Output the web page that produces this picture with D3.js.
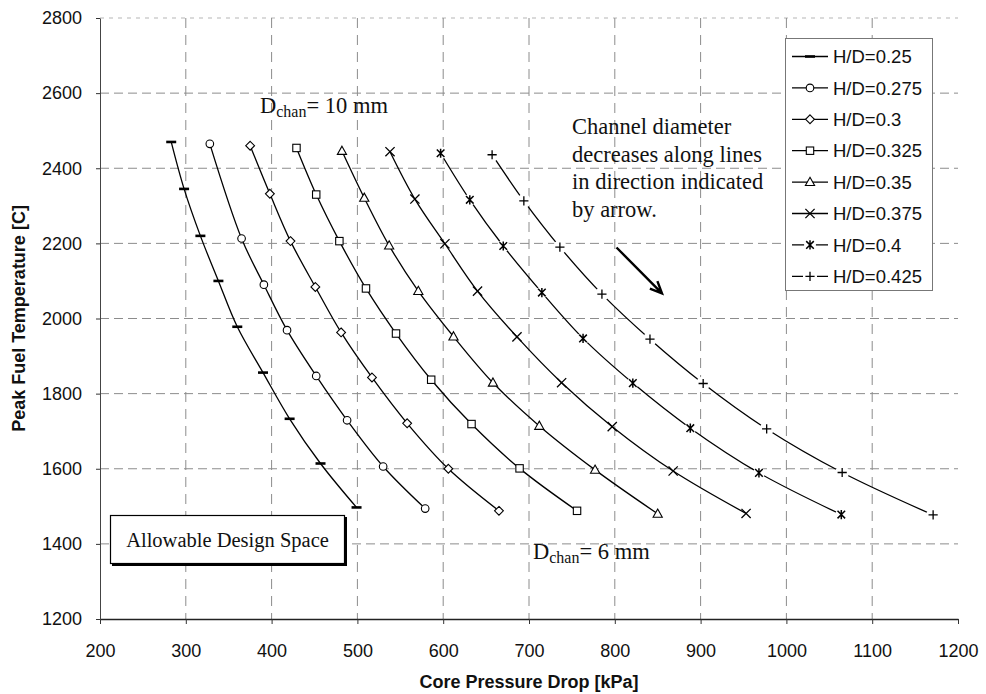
<!DOCTYPE html>
<html>
<head>
<meta charset="utf-8">
<script src="https://cdn.jsdelivr.net/npm/d3@7"></script>
<style>
  body { margin: 0; background: #fff; }
  svg { display: block; }
</style>
</head>
<body>
<svg id="chart" width="986" height="694"></svg>
<script>
// ---- data -------------------------------------------------------------
const xTickValues = [200, 300, 400, 500, 600, 700, 800, 900, 1000, 1100, 1200];
const yTickValues = [1200, 1400, 1600, 1800, 2000, 2200, 2400, 2600, 2800];

const seriesLabels = ["H/D=0.25", "H/D=0.275", "H/D=0.3", "H/D=0.325",
                      "H/D=0.35", "H/D=0.375", "H/D=0.4", "H/D=0.425"];
const markerKinds  = ["dash", "circle", "diamond", "square",
                      "triangle", "cross", "asterisk", "plus"];

// core pressure drop [kPa] and peak fuel temperature [C], channel diameter 10 mm -> 6 mm
const drop025  = [283, 298, 317, 338, 360, 390, 421, 457, 499];
const temp025  = [2470, 2345, 2220, 2100, 1978, 1856, 1733, 1614, 1497];
const drop0275 = [328, 365, 391, 418, 452, 488, 530, 579];
const temp0275 = [2465, 2213, 2090, 1969, 1847, 1729, 1606, 1494];
const drop030  = [375, 398, 422, 451, 481, 517, 558, 606, 665];
const temp030  = [2460, 2332, 2206, 2084, 1963, 1843, 1721, 1600, 1488];
const drop0325 = [429, 452, 479, 510, 545, 586, 633, 689, 756];
const temp0325 = [2454, 2330, 2206, 2080, 1960, 1837, 1719, 1601, 1488];
const drop035  = [482, 508, 537, 571, 612, 658, 712, 777, 850];
const temp035  = [2446, 2321, 2194, 2073, 1952, 1829, 1714, 1597, 1480];
const drop0375 = [538, 567, 602, 640, 686, 738, 797, 868, 953];
const temp0375 = [2444, 2318, 2199, 2073, 1951, 1829, 1712, 1594, 1481];
const drop040  = [597, 631, 670, 715, 763, 821, 888, 968, 1064];
const temp040  = [2440, 2316, 2193, 2069, 1947, 1828, 1708, 1589, 1478];
const drop0425 = [657, 694, 736, 785, 841, 903, 977, 1065, 1171];
const temp0425 = [2436, 2313, 2190, 2065, 1945, 1827, 1706, 1590, 1477];

const dropSets = [drop025, drop0275, drop030, drop0325, drop035, drop0375, drop040, drop0425];
const tempSets = [temp025, temp0275, temp030, temp0325, temp035, temp0375, temp040, temp0425];

// arrow showing the direction of decreasing channel diameter (kPa, C)
const arrowFrom = [802, 2189];
const arrowTo   = [855, 2067];

// ---- layout -----------------------------------------------------------
const SANS  = "'Liberation Sans', Arial, Helvetica, sans-serif";
const SERIF = "'Liberation Serif', 'Times New Roman', Times, serif";
const plot = { left: 100, right: 958, top: 18, bottom: 619 };

const svg = d3.select("#chart");
const x = d3.scaleLinear().domain([200, 1200]).range([plot.left, plot.right]);
const y = d3.scaleLinear().domain([1200, 2800]).range([plot.bottom, plot.top]);

const series = seriesLabels.map((label, i) => ({
  label, kind: markerKinds[i],
  points: dropSets[i].map((d, j) => ({ p: d, t: tempSets[i][j] }))
}));

// ---- gridlines --------------------------------------------------------
const grid = svg.append("g").attr("fill", "none");
grid.selectAll("line.h").data(yTickValues.filter(v => v > 1200)).join("line")
  .attr("x1", plot.left).attr("x2", plot.right)
  .attr("y1", d => y(d)).attr("y2", d => y(d))
  .attr("stroke", d => d === 2800 ? "#b5b5b5" : "#8c8c8c")
  .attr("stroke-width", 1)
  .attr("stroke-dasharray", d => d === 2800 ? "4,5" : "9,5");
grid.selectAll("line.v").data(xTickValues.filter(v => v > 200 && v < 1200)).join("line")
  .attr("x1", d => x(d)).attr("x2", d => x(d))
  .attr("y1", plot.top).attr("y2", plot.bottom)
  .attr("stroke", "#8c8c8c").attr("stroke-width", 1)
  .attr("stroke-dasharray", "10,7");

// ---- axes -------------------------------------------------------------
const fmt = d3.format("d");
const xAxis = svg.append("g")
  .attr("transform", `translate(0,${plot.bottom})`)
  .call(d3.axisBottom(x).tickValues(xTickValues).tickFormat(fmt)
    .tickSize(5).tickPadding(20).tickSizeOuter(0));
const yAxis = svg.append("g")
  .attr("transform", `translate(${plot.left},0)`)
  .call(d3.axisLeft(y).tickValues(yTickValues).tickFormat(fmt)
    .tickSize(4).tickPadding(14).tickSizeOuter(0));

[xAxis, yAxis].forEach(a => {
  a.selectAll("text").attr("font-family", SANS).attr("font-size", 18).attr("fill", "#111");
  a.selectAll("line").attr("stroke", "#333");
});
xAxis.select(".domain").attr("stroke", "#222").attr("stroke-width", 1.5);
yAxis.select(".domain").attr("stroke", "#444").attr("stroke-width", 1);

svg.append("text")
  .attr("x", (plot.left + plot.right) / 2).attr("y", 688)
  .attr("text-anchor", "middle")
  .attr("font-family", SANS).attr("font-size", 18).attr("font-weight", "bold")
  .attr("fill", "#111")
  .text("Core Pressure Drop [kPa]");
svg.append("text")
  .attr("transform", `translate(25,${(plot.top + plot.bottom) / 2}) rotate(-90)`)
  .attr("text-anchor", "middle")
  .attr("font-family", SANS).attr("font-size", 18).attr("font-weight", "bold")
  .attr("fill", "#111")
  .text("Peak Fuel Temperature [C]");

// ---- markers ----------------------------------------------------------
function drawMarker(g, kind, cx, cy) {
  const m = g.append("g").attr("transform", `translate(${cx},${cy})`);
  const k = "#000";
  switch (kind) {
    case "dash":
      m.append("line").attr("x1", -5).attr("x2", 5).attr("y1", 0).attr("y2", 0)
        .attr("stroke", k).attr("stroke-width", 2.6);
      break;
    case "circle":
      m.append("circle").attr("r", 3.8).attr("fill", "#fff").attr("stroke", k).attr("stroke-width", 1.1);
      break;
    case "diamond":
      m.append("path").attr("d", "M0,-4.4L4.4,0L0,4.4L-4.4,0Z")
        .attr("fill", "#fff").attr("stroke", k).attr("stroke-width", 1.1);
      break;
    case "square":
      m.append("rect").attr("x", -3.7).attr("y", -3.7).attr("width", 7.4).attr("height", 7.4)
        .attr("fill", "#fff").attr("stroke", k).attr("stroke-width", 1.1);
      break;
    case "triangle":
      m.append("path").attr("d", "M0,-4.8L4.6,3.4L-4.6,3.4Z")
        .attr("fill", "#fff").attr("stroke", k).attr("stroke-width", 1.1);
      break;
    case "cross":
      m.append("path").attr("d", "M-4.6,-4.6L4.6,4.6M-4.6,4.6L4.6,-4.6")
        .attr("stroke", k).attr("stroke-width", 1.3);
      break;
    case "asterisk":
      m.append("circle").attr("r", 6).attr("fill", "#fff");
      m.append("path").attr("d", "M-3.8,-3.8L3.8,3.8M-3.8,3.8L3.8,-3.8M0,-4.6L0,4.6")
        .attr("stroke", k).attr("stroke-width", 1.5);
      break;
    case "plus":
      m.append("circle").attr("r", 7).attr("fill", "#fff");
      m.append("path").attr("d", "M-4.6,0L4.6,0M0,-4.6L0,4.6")
        .attr("stroke", k).attr("stroke-width", 1.3);
      break;
  }
}

// ---- curves -----------------------------------------------------------
const line = d3.line()
  .x(d => x(d.p)).y(d => y(d.t))
  .curve(d3.curveCatmullRom.alpha(0.5));

const curves = svg.append("g");
series.forEach(s => {
  curves.append("path").datum(s.points)
    .attr("d", line)
    .attr("fill", "none").attr("stroke", "#000").attr("stroke-width", 1.3);
});
const marks = svg.append("g");
series.forEach(s => {
  s.points.forEach(pt => drawMarker(marks, s.kind, x(pt.p), y(pt.t)));
});

// ---- legend -----------------------------------------------------------
const legend = svg.append("g");
legend.append("rect")
  .attr("x", 785.5).attr("y", 38.5).attr("width", 147).attr("height", 252)
  .attr("fill", "#fff").attr("stroke", "#777").attr("stroke-width", 1);
series.forEach((s, i) => {
  const ly = 56.5 + i * 31.4;
  legend.append("line").attr("x1", 792).attr("x2", 828).attr("y1", ly).attr("y2", ly)
    .attr("stroke", "#000").attr("stroke-width", 1.3);
  drawMarker(legend, s.kind, 810, ly);
  legend.append("text")
    .attr("x", 833).attr("y", ly).attr("dy", "0.36em")
    .attr("font-family", SANS).attr("font-size", 18.5).attr("fill", "#111")
    .text(s.label);
});

// ---- annotations ------------------------------------------------------
function dchan(xp, yp, value) {
  const t = svg.append("text").attr("x", xp).attr("y", yp)
    .attr("font-family", SERIF).attr("font-size", 22.5).attr("fill", "#111");
  t.append("tspan").text("D");
  t.append("tspan").attr("font-size", 16).attr("dy", 4).text("chan");
  t.append("tspan").attr("dy", -4).text("= " + value);
}
dchan(260, 113, "10 mm");
dchan(533, 559, "6 mm");

const note = svg.append("text")
  .attr("font-family", SERIF).attr("font-size", 22.5).attr("fill", "#111");
["Channel diameter", "decreases along lines", "in direction indicated", "by arrow."]
  .forEach((s, i) => note.append("tspan").attr("x", 572).attr("y", 134 + i * 27.5).text(s));

// arrow
const ax0 = x(arrowFrom[0]), ay0 = y(arrowFrom[1]);
const ax1 = x(arrowTo[0]),   ay1 = y(arrowTo[1]);
const ang = Math.atan2(ay1 - ay0, ax1 - ax0);
const head = 13, spread = 0.42;
svg.append("path")
  .attr("d", `M${ax0},${ay0}L${ax1},${ay1}` +
             `M${ax1 - head * Math.cos(ang - spread)},${ay1 - head * Math.sin(ang - spread)}` +
             `L${ax1},${ay1}` +
             `L${ax1 - head * Math.cos(ang + spread)},${ay1 - head * Math.sin(ang + spread)}`)
  .attr("fill", "none").attr("stroke", "#000").attr("stroke-width", 2.4)
  .attr("stroke-linejoin", "miter");

// allowable design space box
const box = svg.append("g");
box.append("rect").attr("x", 112).attr("y", 517).attr("width", 235).attr("height", 49).attr("fill", "#000");
box.append("rect").attr("x", 110.5).attr("y", 515.5).attr("width", 234).attr("height", 48)
  .attr("fill", "#fff").attr("stroke", "#000").attr("stroke-width", 1.2);
box.append("text")
  .attr("x", 227.5).attr("y", 547)
  .attr("text-anchor", "middle")
  .attr("font-family", SERIF).attr("font-size", 20.5).attr("fill", "#111")
  .text("Allowable Design Space");
</script>
</body>
</html>
